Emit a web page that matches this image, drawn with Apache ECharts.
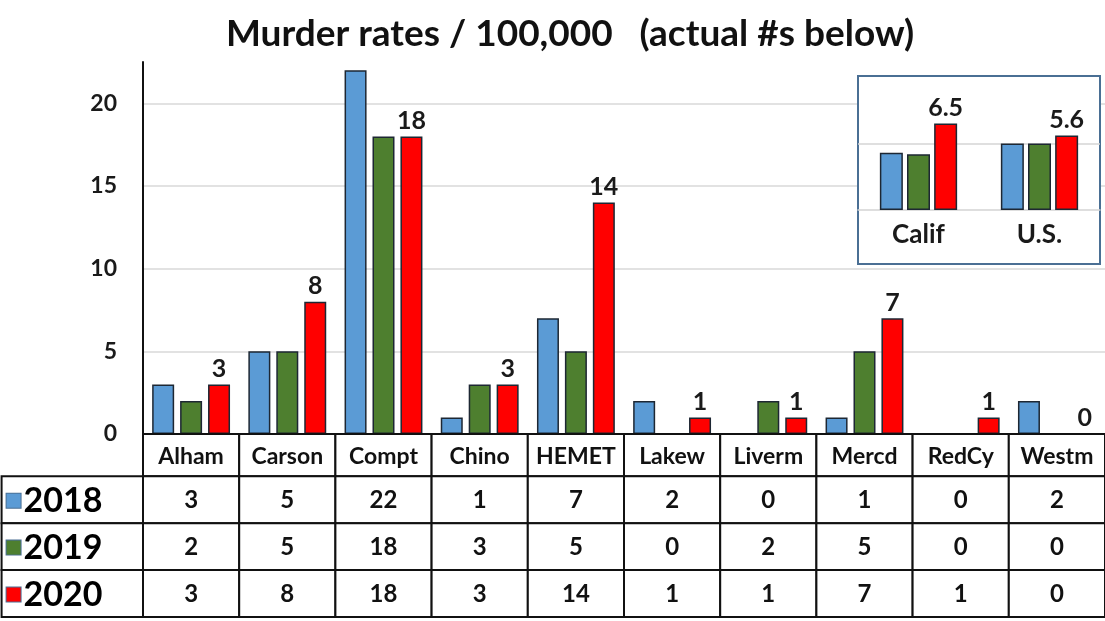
<!DOCTYPE html>
<html>
<head>
<meta charset="utf-8">
<script src="https://cdn.jsdelivr.net/npm/echarts@6/dist/echarts.min.js"></script>
<style>
  html, body { margin: 0; padding: 0; background: #fff; }
  #chart { width: 1105px; height: 621px; }
</style>
</head>
<body>
<div id="chart"></div>
<script>
// city data (rate per 100,000, same as the table)
var cities = ["Alham", "Carson", "Compt", "Chino", "HEMET", "Lakew", "Liverm", "Mercd", "RedCy", "Westm"];
var years = ["2018", "2019", "2020"];
var y2018 = [3, 5, 22, 1, 7, 2, 0, 1, 0, 2];
var y2019 = [2, 5, 18, 3, 5, 0, 2, 5, 0, 0];
var y2020 = [3, 8, 18, 3, 14, 1, 1, 7, 1, 0];

// inset: state / national rates
var regions = ["Calif", "U.S."];
var reg2018 = [4.3, 5.0];
var reg2019 = [4.2, 5.0];
var reg2020 = [6.5, 5.6];

var yTicks = [0, 5, 10, 15, 20];

var colors = ["#5b9bd5", "#4e7f2f", "#ff0000"];
var font = "Lato, 'Open Sans', sans-serif";

// table cells built from the arrays above
var rowEdges = [0, 0.9, 1.9, 2.9, 3.9];
var rows = [y2018, y2019, y2020];
var cells = [];
cities.forEach(function (c, i) {
  cells.push({ col: i, row: 0, text: c, kind: "head" });
});
rows.forEach(function (arr, r) {
  cells.push({ col: -1, row: r + 1, text: years[r], kind: "year", color: colors[r] });
  arr.forEach(function (v, i) {
    cells.push({ col: i, row: r + 1, text: String(v), kind: "num" });
  });
});

var myChart = echarts.init(document.getElementById("chart"));

var barStyle = function (c) {
  return { color: c, borderColor: "#1d2733", borderWidth: 1.5 };
};

var option = {
  backgroundColor: "#fff",
  animation: false,
  title: {
    text: "Murder rates / 100,000   (actual #s below)",
    left: 565,
    textAlign: "center",
    top: 11,
    textStyle: { fontFamily: font, fontWeight: "bold", fontSize: 37, color: "#111" }
  },
  grid: [
    { left: 143, right: 0, top: 62, bottom: 187 },
    { left: 858, width: 242, top: 76, bottom: 357, show: true, z: 3,
      backgroundColor: "#fff", borderColor: "#4a6f94", borderWidth: 2 },
    { left: 143, right: 0, top: 434, bottom: 4 }
  ],
  xAxis: [
    { gridIndex: 0, type: "category", data: cities,
      axisLine: { show: false }, axisTick: { show: false }, axisLabel: { show: false } },
    { gridIndex: 1, type: "category", data: regions, z: 4, offset: -54,
      axisLine: { onZero: false, lineStyle: { color: "#d4d4d4", width: 1.5 } },
      axisTick: { show: false },
      axisLabel: { margin: 12, fontFamily: font, fontWeight: "bold", fontSize: 26, color: "#1a1a1a" } },
    { gridIndex: 2, type: "value", min: 0, max: 10, show: false }
  ],
  yAxis: [
    { gridIndex: 0, type: "value", min: 0, max: 22.5, interval: 5,
      axisLine: { show: true, lineStyle: { color: "#111", width: 2 } },
      axisTick: { show: false },
      axisLabel: {
        margin: 26, showMaxLabel: false, fontFamily: font, fontWeight: "bold", fontSize: 23, color: "#1a1a1a",
        formatter: function (v) { return yTicks.indexOf(v) >= 0 ? String(v) : ""; }
      },
      splitLine: { show: true, showMinLine: false, showMaxLine: false, lineStyle: { color: "#d9d9d9", width: 1.5 } } },
    { gridIndex: 1, type: "value", min: -4.06, max: 10.08, show: false, splitLine: { show: false } },
    { gridIndex: 2, type: "value", min: 0, max: 3.9, inverse: true, show: false }
  ],
  series: [
    { name: "2018", type: "bar", xAxisIndex: 0, yAxisIndex: 0, data: y2018,
      barWidth: 22, barGap: "27%", itemStyle: barStyle(colors[0]) },
    { name: "2019", type: "bar", xAxisIndex: 0, yAxisIndex: 0, data: y2019,
      barWidth: 22, barGap: "27%", itemStyle: barStyle(colors[1]) },
    { name: "2020", type: "bar", xAxisIndex: 0, yAxisIndex: 0, data: y2020,
      barWidth: 22, barGap: "27%", itemStyle: barStyle(colors[2]),
      label: { show: true, position: "top", distance: 3, fontFamily: font, fontWeight: "bold", fontSize: 25, color: "#1a1a1a" } },

    { name: "r2018", type: "bar", xAxisIndex: 1, yAxisIndex: 1, data: reg2018, z: 6,
      barWidth: 23, barGap: "18%", itemStyle: barStyle(colors[0]),
      markLine: { silent: true, symbol: "none", label: { show: false },
        lineStyle: { color: "#d4d4d4", type: "solid", width: 1.5 }, data: [{ yAxis: 5 }] } },
    { name: "r2019", type: "bar", xAxisIndex: 1, yAxisIndex: 1, data: reg2019, z: 6,
      barWidth: 23, barGap: "18%", itemStyle: barStyle(colors[1]) },
    { name: "r2020", type: "bar", xAxisIndex: 1, yAxisIndex: 1, data: reg2020, z: 6,
      barWidth: 23, barGap: "18%", itemStyle: barStyle(colors[2]),
      label: { show: true, position: "top", distance: 3, fontFamily: font, fontWeight: "bold", fontSize: 25, color: "#1a1a1a",
        formatter: function (p) { return p.value.toFixed(1); } } },

    { type: "custom", xAxisIndex: 2, yAxisIndex: 2, clip: false, silent: true, z: 4,
      data: cells.map(function (c) { return [c.col, c.row]; }),
      renderItem: function (params, api) {
        var cell = cells[params.dataIndex];
        var x0 = api.coord([cell.col === -1 ? -1.47 : cell.col, 0])[0];
        var x1 = api.coord([cell.col + 1, 0])[0];
        var y0 = api.coord([0, rowEdges[cell.row]])[1];
        var y1 = api.coord([0, rowEdges[cell.row + 1]])[1];
        var rect = {
          type: "rect",
          shape: { x: x0, y: y0, width: x1 - x0, height: y1 - y0 },
          style: { fill: "#fff", stroke: "#111", lineWidth: 2 }
        };
        var txt;
        if (cell.kind === "year") {
          txt = {
            type: "text",
            style: {
              x: x0 + 5, y: (y0 + y1) / 2 + 1, align: "left", verticalAlign: "middle",
              text: "{sq|}{t|" + cell.text + "}",
              rich: {
                sq: { width: 14, height: 14, backgroundColor: cell.color, borderColor: "#4a6f94", borderWidth: 1 },
                t: { fontFamily: font, fontWeight: "bold", fontSize: 34, color: "#111", padding: [0, 0, 0, 3] }
              }
            }
          };
        } else {
          txt = {
            type: "text",
            style: {
              x: (x0 + x1) / 2, y: (y0 + y1) / 2 + 1, align: "center", verticalAlign: "middle",
              text: cell.text, fontFamily: font, fontWeight: "bold",
              fontSize: cell.kind === "head" ? 23 : 24, fill: "#111"
            }
          };
        }
        return { type: "group", children: [rect, txt] };
      }
    }
  ]
};

myChart.setOption(option);
</script>
</body>
</html>
